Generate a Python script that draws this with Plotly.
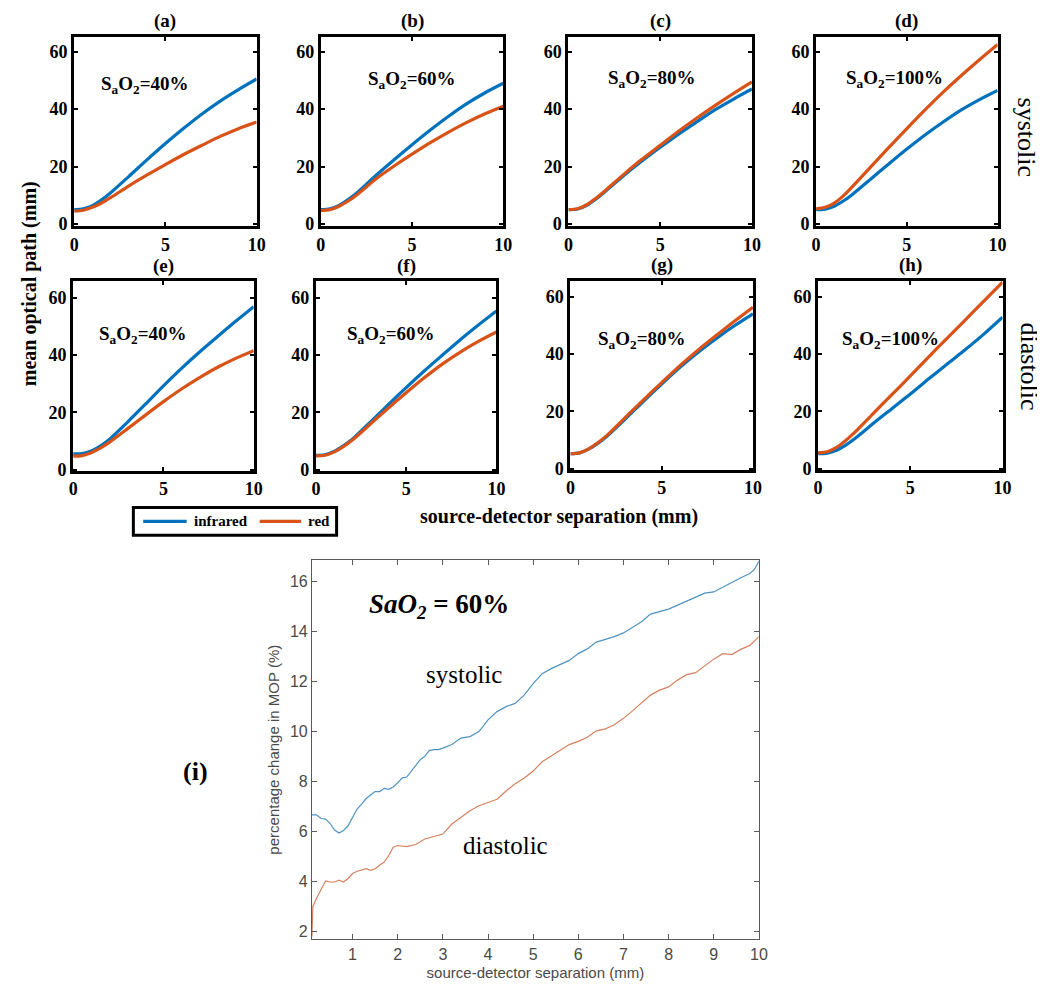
import plotly.graph_objects as go

W, H = 1045, 991

# ---------------- data ----------------
sep = [0, 0.5, 1, 1.5, 2, 3, 4, 5, 6, 7, 8, 9, 10]

panel_labels = ["(a)", "(b)", "(c)", "(d)", "(e)", "(f)", "(g)", "(h)"]
sao2_labels = ["40%", "60%", "80%", "100%", "40%", "60%", "80%", "100%"]
legend_names = ["infrared", "red"]

ir_a = [5, 5.3, 6.4, 8.4, 10.9, 16.6, 22.4, 28.0, 33.3, 38.3, 42.8, 46.8, 50.5]
red_a = [4.5, 4.8, 5.8, 7.3, 9.2, 13.3, 17.1, 20.7, 24.2, 27.4, 30.5, 33.2, 35.5]
ir_b = [5, 5.3, 6.5, 8.5, 11, 16.8, 22.3, 27.6, 32.7, 37.5, 41.9, 45.7, 49]
red_b = [4.7, 5, 6.2, 8, 10.3, 15.6, 20.1, 24.3, 28.3, 32, 35.4, 38.4, 41]
ir_c = [5, 5.2, 6.5, 8.7, 11.3, 16.8, 21.9, 26.7, 31.3, 35.6, 39.8, 43.5, 47]
red_c = [5, 5.3, 6.7, 9, 11.6, 17.2, 22.5, 27.4, 32.3, 36.9, 41.3, 45.5, 49.5]
ir_d = [5, 5.2, 6.2, 8, 10.3, 15.6, 20.9, 26.1, 31.0, 35.5, 39.7, 43.3, 46.5]
red_d = [5.3, 5.8, 7.3, 9.8, 13, 19.8, 26.6, 33.2, 39.7, 45.9, 51.7, 57.2, 62.5]
ir_e = [5.5, 5.6, 6.5, 8.2, 10.5, 16.5, 22.8, 29.2, 35.3, 41.0, 46.4, 51.7, 56.8]
red_e = [4.7, 4.9, 5.9, 7.5, 9.5, 14.2, 19.0, 23.7, 28.1, 32.1, 35.7, 38.8, 41.5]
ir_f = [5, 5.2, 6.3, 8.2, 10.5, 16.5, 22.6, 28.6, 34.4, 39.9, 45.3, 50.4, 55.3]
red_f = [4.8, 5, 6.1, 7.9, 10.2, 15.8, 21.4, 26.8, 32, 36.8, 41, 44.7, 48]
ir_g = [5.2, 5.5, 6.8, 8.8, 11.3, 17.3, 23.5, 29.5, 35.3, 40.6, 45.4, 49.9, 54]
red_g = [5.2, 5.5, 6.9, 9, 11.6, 17.8, 24, 30, 35.9, 41.4, 46.5, 51.5, 56.3]
ir_h = [5.2, 5.4, 6.4, 8.2, 10.5, 15.8, 20.9, 26, 31.3, 36.5, 41.6, 47, 52.8]
red_h = [5.5, 5.9, 7.4, 9.8, 12.7, 19.3, 25.8, 32.3, 39, 45.5, 52, 58.5, 65]

ir_all = [ir_a, ir_b, ir_c, ir_d, ir_e, ir_f, ir_g, ir_h]
red_all = [red_a, red_b, red_c, red_d, red_e, red_f, red_g, red_h]

# panel (i)
sep_i_sys = [0.1, 0.2, 0.3, 0.4, 0.5, 0.6, 0.7, 0.8, 0.9, 1.0, 1.1, 1.2, 1.3, 1.4, 1.5, 1.6,
             1.7, 1.8, 1.9, 2.0, 2.1, 2.2, 2.3, 2.4, 2.5, 2.6, 2.7, 2.8, 2.9, 3.0, 3.2, 3.4,
             3.6, 3.8, 4.0, 4.2, 4.4, 4.6, 4.8, 5.0, 5.2, 5.4, 5.6, 5.8, 6.0, 6.2, 6.4, 6.6,
             6.8, 7.0, 7.2, 7.4, 7.6, 7.8, 8.0, 8.2, 8.4, 8.6, 8.8, 9.0, 9.2, 9.4, 9.6, 9.8,
             9.9, 10.0]
systolic = [6.67, 6.67, 6.52, 6.5, 6.33, 6.06, 5.94, 6.04, 6.23, 6.56, 6.9, 7.1, 7.32, 7.46,
            7.6, 7.6, 7.73, 7.69, 7.78, 7.95, 8.15, 8.18, 8.42, 8.66, 8.88, 9.01, 9.24, 9.28,
            9.28, 9.34, 9.48, 9.74, 9.8, 10.0, 10.47, 10.8, 11.0, 11.13, 11.46, 11.92, 12.32,
            12.52, 12.68, 12.85, 13.12, 13.31, 13.58, 13.68, 13.8, 13.95, 14.17, 14.4, 14.7,
            14.81, 14.9, 15.06, 15.23, 15.4, 15.54, 15.59, 15.79, 15.99, 16.16, 16.33, 16.49,
            16.82]
sep_i_dia = [0.1, 0.12, 0.2, 0.3, 0.4, 0.5, 0.6, 0.7, 0.8, 0.9, 1.0, 1.1, 1.2, 1.3, 1.4, 1.5,
             1.6, 1.7, 1.8, 1.9, 2.0, 2.2, 2.4, 2.6, 2.8, 3.0, 3.2, 3.4, 3.6, 3.8, 4.0, 4.2,
             4.4, 4.6, 4.8, 5.0, 5.2, 5.4, 5.6, 5.8, 6.0, 6.2, 6.4, 6.6, 6.8, 7.0, 7.2, 7.4,
             7.6, 7.8, 8.0, 8.2, 8.4, 8.6, 8.8, 9.0, 9.2, 9.4, 9.6, 9.8, 10.0]
diastolic = [1.8, 3.0, 3.32, 3.65, 4.02, 3.98, 3.98, 4.05, 3.98, 4.12, 4.32, 4.41, 4.45, 4.51,
             4.45, 4.51, 4.65, 4.78, 5.04, 5.37, 5.44, 5.4, 5.48, 5.7, 5.8, 5.9, 6.3, 6.57,
             6.83, 7.03, 7.16, 7.29, 7.62, 7.91, 8.13, 8.42, 8.79, 9.01, 9.24, 9.48, 9.61,
             9.77, 10.03, 10.11, 10.27, 10.53, 10.83, 11.13, 11.46, 11.66, 11.79, 12.06,
             12.28, 12.36, 12.63, 12.9, 13.12, 13.08, 13.29, 13.45, 13.8]

x_ticks_top = [0, 5, 10]
y_ticks_top = [0, 20, 40, 60]
x_ticks_i = [1, 2, 3, 4, 5, 6, 7, 8, 9, 10]
y_ticks_i = [2, 4, 6, 8, 10, 12, 14, 16]

# ---------------- layout helpers ----------------
SERIF = "Liberation Serif"
SANS = "Liberation Sans"
BLUE = "#0072BD"
ORANGE = "#D95319"


def px_x(p):
    return p / W


def px_y(p):
    return 1 - p / H


# panel boxes in pixels (left, right, top, bottom)
boxes = [
    (62, 247, 29, 220), (312, 497, 29, 220), (563, 749, 29, 220), (814, 998, 29, 220),
    (61, 244, 276, 467), (307, 490, 276, 467), (565, 750, 275, 466), (816, 1003, 275, 466),
]
yranges = [[-0.7, 65.2]] * 4 + [[-0.4, 65.6]] * 4
text_pos = [(134, 78), (404, 73), (648, 72), (893, 72),
            (132, 330), (383, 330), (638, 335), (889, 335)]

fig = go.Figure()
layout = dict(
    width=W, height=H, margin=dict(l=0, r=0, t=0, b=0),
    paper_bgcolor="white", plot_bgcolor="white",
    showlegend=False,
)
annotations = []
shapes = []

for i in range(8):
    n = i + 1
    xa = "x" if n == 1 else f"x{n}"
    ya = "y" if n == 1 else f"y{n}"
    l, r, t, b = boxes[i]
    axis_common = dict(
        showline=True, linecolor="black", linewidth=3, mirror="ticks",
        ticks="inside", ticklen=4, tickwidth=2, tickcolor="black",
        showgrid=False, zeroline=False,
        tickfont=dict(family=SERIF, size=18, color="black", weight="bold"),
    )
    layout["xaxis" if n == 1 else f"xaxis{n}"] = dict(
        domain=[px_x(l), px_x(r)], range=[0, 10], tickvals=x_ticks_top,
        anchor=ya, **axis_common)
    layout["yaxis" if n == 1 else f"yaxis{n}"] = dict(
        domain=[px_y(b), px_y(t)], range=yranges[i], tickvals=y_ticks_top,
        anchor=xa, **axis_common)
    fig.add_trace(go.Scatter(
        x=sep, y=ir_all[i], mode="lines", name=legend_names[0],
        line=dict(color=BLUE, width=3.2, shape="spline", smoothing=0.8),
        xaxis=xa, yaxis=ya))
    fig.add_trace(go.Scatter(
        x=sep, y=red_all[i], mode="lines", name=legend_names[1],
        line=dict(color=ORANGE, width=3.2, shape="spline", smoothing=0.8),
        xaxis=xa, yaxis=ya))
    # panel title
    annotations.append(dict(
        text=f"<b>{panel_labels[i]}</b>", x=px_x((l + r) / 2), y=px_y(t - 3),
        xref="paper", yref="paper", xanchor="center", yanchor="bottom",
        showarrow=False, font=dict(family=SERIF, size=19, color="black")))
    tx, ty = text_pos[i]
    annotations.append(dict(
        text=f"<b>S<sub>a</sub>O<sub>2</sub>={sao2_labels[i]}</b>",
        x=px_x(tx), y=px_y(ty), xref="paper", yref="paper",
        xanchor="center", yanchor="middle", showarrow=False,
        font=dict(family=SERIF, size=19, color="black")))

# manual legend (box + sample lines + labels)
shapes.append(dict(type="rect", xref="paper", yref="paper",
                   x0=px_x(122), x1=px_x(328), y0=px_y(532), y1=px_y(504),
                   line=dict(color="black", width=3), fillcolor="white"))
leg_y = 518
for (x0, x1, tx, color, name) in [(132, 176, 181, BLUE, legend_names[0]),
                                   (250, 292, 297, ORANGE, legend_names[1])]:
    shapes.append(dict(type="line", xref="paper", yref="paper",
                       x0=px_x(x0), x1=px_x(x1), y0=px_y(leg_y), y1=px_y(leg_y),
                       line=dict(color=color, width=3.2)))
    annotations.append(dict(text=f"<b>{name}</b>", x=px_x(tx), y=px_y(leg_y),
                            xref="paper", yref="paper", xanchor="left", yanchor="middle",
                            showarrow=False, font=dict(family=SERIF, size=15, color="black")))

# panel (i)
layout["xaxis9"] = dict(
    domain=[px_x(303), px_x(756)], range=[0.1, 10], tickvals=x_ticks_i,
    anchor="y9", showline=True, linecolor="#5a5a5a", linewidth=1, mirror="ticks",
    ticks="inside", ticklen=5, tickcolor="#5a5a5a", showgrid=False, zeroline=False,
    tickfont=dict(family=SANS, size=16, color="#4a4a4a"),
    title=dict(text="source-detector separation (mm)", standoff=5,
               font=dict(family=SANS, size=15, color="#4a4a4a")),
)
layout["yaxis9"] = dict(
    domain=[px_y(940), px_y(557)], range=[1.68, 16.87], tickvals=y_ticks_i,
    anchor="x9", showline=True, linecolor="#5a5a5a", linewidth=1, mirror="ticks",
    ticks="inside", ticklen=5, tickcolor="#5a5a5a", showgrid=False, zeroline=False,
    tickfont=dict(family=SANS, size=16, color="#4a4a4a"),
    title=dict(text="percentage change in MOP (%)", standoff=6,
               font=dict(family=SANS, size=15, color="#4a4a4a")),
)
fig.add_trace(go.Scatter(
    x=sep_i_sys, y=systolic, mode="lines", name="systolic",
    line=dict(color="#4f93c0", width=1.2), xaxis="x9", yaxis="y9"))
fig.add_trace(go.Scatter(
    x=sep_i_dia, y=diastolic, mode="lines", name="diastolic",
    line=dict(color="#d4825f", width=1.2), xaxis="x9", yaxis="y9"))

# global texts
annotations += [
    dict(text="<b>mean optical path (mm)</b>", x=px_x(17), y=px_y(278), textangle=-90,
         xref="paper", yref="paper", xanchor="center", yanchor="middle", showarrow=False,
         font=dict(family=SERIF, size=20, color="black")),
    dict(text="<b>source-detector separation (mm)</b>", x=px_x(553), y=px_y(513),
         xref="paper", yref="paper", xanchor="center", yanchor="middle", showarrow=False,
         font=dict(family=SERIF, size=20, color="black")),
    dict(text="systolic", x=px_x(1027), y=px_y(130), textangle=90,
         xref="paper", yref="paper", xanchor="center", yanchor="middle", showarrow=False,
         font=dict(family=SERIF, size=26, color="black")),
    dict(text="diastolic", x=px_x(1030), y=px_y(362), textangle=90,
         xref="paper", yref="paper", xanchor="center", yanchor="middle", showarrow=False,
         font=dict(family=SERIF, size=26, color="black")),
    dict(text="<b><i>SaO</i><sub><i>2</i></sub> = 60%</b>", x=px_x(432), y=px_y(603),
         xref="paper", yref="paper", xanchor="center", yanchor="middle", showarrow=False,
         font=dict(family=SERIF, size=27, color="black")),
    dict(text="systolic", x=px_x(457), y=px_y(673),
         xref="paper", yref="paper", xanchor="center", yanchor="middle", showarrow=False,
         font=dict(family=SERIF, size=25, color="black")),
    dict(text="diastolic", x=px_x(499), y=px_y(845),
         xref="paper", yref="paper", xanchor="center", yanchor="middle", showarrow=False,
         font=dict(family=SERIF, size=25, color="black")),
    dict(text="<b>(i)</b>", x=px_x(185), y=px_y(770),
         xref="paper", yref="paper", xanchor="center", yanchor="middle", showarrow=False,
         font=dict(family=SERIF, size=26, color="black")),
]
layout["annotations"] = annotations
layout["shapes"] = shapes
fig.update_layout(**layout)
fig.write_html("out.html")
